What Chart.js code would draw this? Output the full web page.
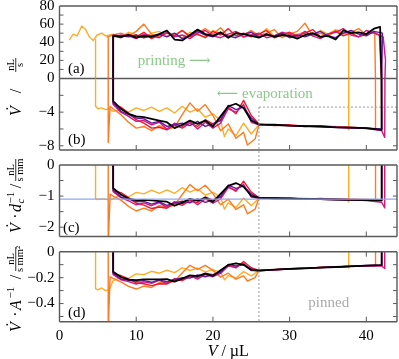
<!DOCTYPE html>
<html>
<head>
<meta charset="utf-8">
<script src="https://cdn.jsdelivr.net/npm/chart.js@4.4.1/dist/chart.umd.min.js"></script>
<style>
html, body { margin:0; padding:0; background:#ffffff; }
#wrap { position:relative; width:399px; height:359px; overflow:hidden; }
#wrap canvas { position:absolute; left:0; top:0; }
</style>
</head>
<body>
<div id="wrap">
  <canvas id="cA" width="399" height="359"></canvas>
  <canvas id="cB" width="399" height="359"></canvas>
  <canvas id="cC" width="399" height="359"></canvas>
  <canvas id="cD" width="399" height="359"></canvas>
</div>
<script>
// ================= DATA =================
const xTicks   = [0, 10, 20, 30, 40];
const yTicksA  = [0, 10, 20, 30, 40, 50, 60, 70, 80];
const yLabelsA = [0, 20, 40, 60, 80];
const yTicksB  = [-8, -6, -4, -2, 0];
const yLabelsB = [-4, -8];
const yTicksC  = [-2, -1.5, -1, -0.5, 0];
const yLabelsC = [0, -1, -2];
const yTicksD  = [-0.5, -0.4, -0.3, -0.2, -0.1, 0];
const yLabelsD = [0, -0.2, -0.4];

const pinV = 26;          // contact line pinned from here (µL)
const pinRate = -3.4;     // level of the dashed guide in (b)
const dcRef = -1.1;       // reference line in (c)

// shared volume grids (µL)
const printGrid = [7,8,9,10,11,12,13,14,15,16,17,18,19,20,21,22,23,24,25,26,27,28,29,30,31,32,33,34,35,36,37,38,39,40,41];
const evapGrid  = [42,40,38,36,34,32,30,28,26,25,24,23,22,21,20,19,18,17,16,15,14,13,12,11,10,9,8,7];

// ---- black ----
const printV_black    = printGrid.concat([41.8]);
const printRate_black = [47,46,48,45,47,46,49,53,43,42,48,54,49,47,51,45,50,49,47,45,49,46,48,47,44,48,50,46,47,43,53,50,51,49,55,57];
const evapV_black     = evapGrid;
const evapRate_black  = [-6.1,-5.9,-5.85,-5.8,-5.7,-5.65,-5.6,-5.5,-5.45,-5.0,-3.5,-3.0,-3.3,-4.5,-5.7,-5.0,-5.4,-5.0,-5.5,-5.9,-5.2,-5.0,-4.8,-4.6,-4.5,-4.2,-3.6,-2.7];
const evapDc_black    = [-1.14,-1.13,-1.12,-1.11,-1.1,-1.09,-1.08,-1.07,-1.06,-0.99,-0.70,-0.58,-0.67,-0.93,-1.19,-1.05,-1.15,-1.09,-1.21,-1.31,-1.18,-1.16,-1.14,-1.12,-1.13,-1.08,-0.95,-0.75];
const evapA_black     = [-0.104,-0.108,-0.113,-0.118,-0.123,-0.128,-0.133,-0.139,-0.146,-0.141,-0.101,-0.090,-0.102,-0.143,-0.187,-0.169,-0.189,-0.182,-0.208,-0.231,-0.212,-0.213,-0.213,-0.214,-0.22,-0.215,-0.195,-0.154];
const restart_black   = 47;

// ---- purple ----
const printV_purple    = printGrid.concat([42.1]);
const printRate_purple = [48,47,46,48,45,47,49,46,50,44,47,52,48,46,50,47,45,49,51,46,48,47,50,45,48,46,49,52,47,45,50,53,49,47,52,50];
const evapV_purple     = evapGrid;
const evapRate_purple  = [-6.0,-5.9,-5.85,-5.8,-5.75,-5.65,-5.6,-5.55,-5.45,-4.7,-3.4,-3.7,-3.2,-5.0,-5.4,-5.7,-5.1,-5.6,-5.3,-5.5,-5.7,-5.1,-5.3,-4.8,-4.7,-4.3,-3.9,-2.9];
const evapDc_purple    = [-1.13,-1.12,-1.12,-1.11,-1.1,-1.09,-1.08,-1.07,-1.06,-0.93,-0.68,-0.75,-0.65,-1.03,-1.13,-1.2,-1.09,-1.22,-1.16,-1.22,-1.3,-1.19,-1.26,-1.17,-1.18,-1.1,-1.03,-0.81];
const evapA_purple     = [-0.103,-0.107,-0.112,-0.117,-0.122,-0.127,-0.132,-0.138,-0.145,-0.132,-0.099,-0.11,-0.098,-0.159,-0.177,-0.193,-0.179,-0.204,-0.2,-0.216,-0.233,-0.217,-0.236,-0.223,-0.229,-0.221,-0.211,-0.166];
const restart_purple   = 48;

// ---- magenta ----
const printV_magenta    = printGrid.concat([42.2, 42.5]);
const printRate_magenta = [46,48,47,44,49,47,45,51,46,48,44,50,53,47,45,49,52,46,48,50,45,47,51,49,46,52,47,44,49,51,55,48,46,53,50,46,20];
const evapV_magenta     = [42.4].concat(evapGrid);
const evapRate_magenta  = [-7.0,-6.2,-5.95,-5.85,-5.8,-5.7,-5.7,-5.6,-5.5,-5.5,-5.2,-3.1,-4.0,-3.6,-5.3,-5.9,-5.2,-6.0,-5.1,-5.7,-5.3,-6.0,-5.2,-5.5,-5.0,-5.1,-4.5,-4.0,-3.1];
const evapDc_magenta    = [-1.38,-1.2,-1.14,-1.12,-1.11,-1.1,-1.1,-1.08,-1.07,-1.07,-1.03,-0.62,-0.81,-0.73,-1.09,-1.23,-1.09,-1.28,-1.11,-1.25,-1.18,-1.36,-1.21,-1.31,-1.22,-1.28,-1.15,-1.05,-0.86];
const evapA_magenta     = [-0.13,-0.11,-0.108,-0.113,-0.118,-0.123,-0.128,-0.133,-0.139,-0.147,-0.146,-0.09,-0.119,-0.111,-0.168,-0.193,-0.176,-0.211,-0.185,-0.215,-0.208,-0.245,-0.221,-0.244,-0.233,-0.249,-0.231,-0.216,-0.177];
const restart_magenta   = 46;

// ---- red ----
const printV_red    = printGrid.concat([41.7]);
const printRate_red = [47,45,49,46,51,44,48,50,47,53,46,49,45,52,48,55,47,50,46,49,53,45,48,51,47,50,54,46,49,52,47,50,46,49,51,48];
const evapV_red     = evapGrid;
const evapRate_red  = [-6.1,-5.9,-5.8,-5.75,-5.6,-5.7,-5.5,-5.6,-5.4,-4.4,-2.6,-4.2,-3.4,-4.9,-5.4,-4.9,-5.7,-5.3,-5.9,-5.5,-6.1,-5.8,-5.9,-5.3,-4.9,-4.1,-3.4,-3.0];
const evapDc_red    = [-1.14,-1.12,-1.11,-1.1,-1.08,-1.1,-1.06,-1.09,-1.05,-0.87,-0.52,-0.85,-0.69,-1.01,-1.13,-1.03,-1.21,-1.15,-1.3,-1.22,-1.39,-1.35,-1.4,-1.29,-1.23,-1.05,-0.89,-0.83];
const evapA_red     = [-0.105,-0.108,-0.112,-0.118,-0.121,-0.129,-0.131,-0.141,-0.145,-0.124,-0.075,-0.125,-0.105,-0.156,-0.177,-0.166,-0.2,-0.193,-0.223,-0.216,-0.249,-0.247,-0.262,-0.247,-0.239,-0.21,-0.184,-0.171];
const restart_red   = 47;

// ---- orange ----
const printV_orange    = [6.2].concat(printGrid, [41.1]);
const printRate_orange = [46,48,50,47,52,60,49,46,51,48,53,47,50,55,49,56,46,51,48,53,47,50,54,45,49,52,61,47,50,46,53,49,51,55,48,52,50];
const evapV_orange     = [41.2,40,38,36,34,32,30,28,26,25.5,24.5,24,23,22,21,20,19,18,17,16,15,14,13,12,11,10,9,8,7,6.6,6.35];
const evapRate_orange  = [-6.0,-5.9,-5.85,-5.8,-5.7,-5.65,-5.6,-5.5,-5.5,-7.2,-7.9,-6.4,-7.1,-5.4,-6.2,-4.4,-3.1,-3.9,-2.9,-4.3,-5.8,-6.0,-5.6,-6.2,-5.7,-5.9,-5.2,-4.3,-3.6,-3.3,-7.6];
const evapDc_orange    = [-1.12,-1.11,-1.1,-1.1,-1.09,-1.08,-1.08,-1.07,-1.07,-1.42,-1.57,-1.28,-1.43,-1.1,-1.28,-0.92,-0.65,-0.83,-0.63,-0.95,-1.29,-1.36,-1.3,-1.48,-1.39,-1.48,-1.33,-1.13,-1.0,-0.94,-2.6];
const evapA_orange     = [-0.106,-0.108,-0.112,-0.117,-0.122,-0.127,-0.132,-0.138,-0.145,-0.2,-0.226,-0.186,-0.212,-0.166,-0.197,-0.144,-0.105,-0.137,-0.105,-0.162,-0.227,-0.245,-0.238,-0.276,-0.265,-0.288,-0.267,-0.232,-0.206,-0.194,-0.6];
const restart_orange   = 46;

// ---- yellow ----
const printV_yellow    = [1.3,1.8,2.3,2.9,3.4,3.9,4.4,4.9,5.5,6,7,8,9,10,11,12,13,14,15,16,17,18,19,20,21,22,23,24,25,26,27,28,29,30,31,32,33,34,35,36,37,37.7];
const printRate_yellow = [43,49,47,58,54,46,42,48,50,47,49,46,51,48,45,50,52,47,49,45,51,48,46,53,49,47,50,45,52,48,55,47,50,46,49,51,47,53,49,54,51,48];
const evapV_yellow     = [37.7,37.5,36,34,32,30,28,26,25,24,23,22,21.5,21,20,19,18,17,16,15,14,13,12,11,10,9,8,7,6.5,6,5.5,5,4.7];
const evapRate_yellow  = [-6.1,-5.75,-5.7,-5.7,-5.65,-5.6,-5.55,-5.5,-6.6,-5.3,-6.8,-6.0,-6.9,-5.0,-4.2,-4.6,-3.6,-4.0,-3.3,-4.1,-3.5,-3.9,-3.4,-3.8,-3.5,-4.0,-3.7,-3.9,-3.6,-3.7,-3.5,-3.6,-3.3];
const evapDc_yellow    = [-1.19,-1.1,-1.1,-1.09,-1.09,-1.08,-1.07,-1.07,-1.31,-1.06,-1.37,-1.22,-1.42,-1.03,-0.88,-0.97,-0.77,-0.87,-0.73,-0.91,-0.8,-0.91,-0.81,-0.93,-0.88,-1.03,-0.97,-1.08,-1.12,-1.1,-1.09,-1.11,-1.08];
const evapA_yellow     = [-0.125,-0.114,-0.117,-0.122,-0.127,-0.132,-0.138,-0.145,-0.186,-0.154,-0.203,-0.185,-0.216,-0.159,-0.138,-0.156,-0.126,-0.145,-0.125,-0.161,-0.143,-0.166,-0.151,-0.177,-0.171,-0.205,-0.2,-0.223,-0.29,-0.3,-0.28,-0.295,-0.285];
const restart_yellow   = 43;

// ================= STYLE / LAYOUT =================
const W = 399, H = 359;
const PLOT_LEFT = 59.5, PLOT_RIGHT = 397;
const BOX = { A:{top:6, bottom:78.5}, B:{top:78.5, bottom:150}, C:{top:165, bottom:236.5}, D:{top:251.7, bottom:321.7} };
const RANGE = { A:[0,80], B:[-8.5,0], C:[-2.3,0], D:[-0.54,0] };
const X_RANGE = [0, 44];
const SERIF = '"Liberation Serif", "DejaVu Serif", serif';
const FRAME_COLOR = '#5a5a5a';
const GREEN = 'rgb(140,200,140)';

const series = [
  { color:'#000000', width:1.8, pV:printV_black,   pR:printRate_black,   eV:evapV_black,   eR:evapRate_black,   eC:evapDc_black,   eA:evapA_black,   rs:restart_black },
  { color:'#6b16a3', width:1.4, pV:printV_purple,  pR:printRate_purple,  eV:evapV_purple,  eR:evapRate_purple,  eC:evapDc_purple,  eA:evapA_purple,  rs:restart_purple },
  { color:'#d01a7c', width:1.4, pV:printV_magenta, pR:printRate_magenta, eV:evapV_magenta, eR:evapRate_magenta, eC:evapDc_magenta, eA:evapA_magenta, rs:restart_magenta },
  { color:'#f0192b', width:1.4, pV:printV_red,     pR:printRate_red,     eV:evapV_red,     eR:evapRate_red,     eC:evapDc_red,     eA:evapA_red,     rs:restart_red },
  { color:'#fd7b22', width:1.4, pV:printV_orange,  pR:printRate_orange,  eV:evapV_orange,  eR:evapRate_orange,  eC:evapDc_orange,  eA:evapA_orange,  rs:restart_orange },
  { color:'#fdad28', width:1.4, pV:printV_yellow,  pR:printRate_yellow,  eV:evapV_yellow,  eR:evapRate_yellow,  eC:evapDc_yellow,  eA:evapA_yellow,  rs:restart_yellow }
];

function pts(xs, ys) { return xs.map((x, i) => ({ x: x, y: ys[i] })); }
// full printing + evaporation loop for V-dot panels (a) and (b)
function loopRate(s) {
  return pts(s.pV, s.pR).concat(pts(s.eV, s.eR), [{ x: s.eV[s.eV.length - 1], y: s.rs }]);
}
// evaporation branch only (normalised panels); the jumps lead to / from the printing branch
function loopNorm(s, vals) {
  return [{ x: s.eV[0], y: s.pR[s.pR.length - 1] }].concat(pts(s.eV, vals), [{ x: s.eV[s.eV.length - 1], y: s.rs }]);
}
function curveSet(getter) {
  return series.map(s => ({
    data: getter(s), borderColor: s.color, borderWidth: s.width,
    fill: false, pointRadius: 0, clip: 0, tension: 0,
    borderJoinStyle: 'round', borderCapStyle: 'round'
  }));
}
function fmt(v) { const s = String(Math.abs(v)); return v < 0 ? '\u2212' + s : s; }

function frame(o) {
  return {
    id: 'frame',
    afterDatasetsDraw(chart) {
      const ctx = chart.ctx, a = chart.chartArea, xs = chart.scales.x, ys = chart.scales.y;
      ctx.save();
      ctx.strokeStyle = FRAME_COLOR;
      ctx.lineWidth = 1.4;
      ctx.beginPath();
      ctx.moveTo(a.left, a.top); ctx.lineTo(a.left, a.bottom);
      ctx.moveTo(a.right, a.top); ctx.lineTo(a.right, a.bottom);
      if (o.top)    { ctx.moveTo(a.left, a.top);    ctx.lineTo(a.right, a.top); }
      if (o.bottom) { ctx.moveTo(a.left, a.bottom); ctx.lineTo(a.right, a.bottom); }
      ctx.stroke();
      ctx.lineWidth = 1;
      ctx.beginPath();
      o.yTicks.forEach(v => {
        const py = ys.getPixelForValue(v);
        if (py > a.top + 2 && py < a.bottom - 2) {
          ctx.moveTo(a.left, py);  ctx.lineTo(a.left + 4, py);
          ctx.moveTo(a.right, py); ctx.lineTo(a.right - 4, py);
        }
      });
      xTicks.forEach(v => {
        const px = xs.getPixelForValue(v);
        if (px > a.left + 2 && px < a.right - 2) {
          if (o.xTop)    { ctx.moveTo(px, a.top);    ctx.lineTo(px, a.top + 5); }
          if (o.xBottom) { ctx.moveTo(px, a.bottom); ctx.lineTo(px, a.bottom - 5); }
        }
      });
      ctx.stroke();
      ctx.restore();
    }
  };
}

function yScale(range, ticks, labels) {
  return {
    min: range[0], max: range[1],
    afterBuildTicks: s => { s.ticks = ticks.map(v => ({ value: v })); },
    afterFit: s => { s.width = PLOT_LEFT; s.paddingTop = 0; s.paddingBottom = 0; },
    grid: { display: false, drawTicks: false },
    border: { display: false },
    ticks: { padding: 5, color: '#000', font: { size: 15, family: SERIF }, autoSkip: false,
             callback: v => labels.includes(v) ? fmt(v) : '' }
  };
}
function xScale(show, bottom) {
  const cfg = { type: 'linear', min: X_RANGE[0], max: X_RANGE[1], display: show };
  if (show) {
    cfg.afterBuildTicks = s => { s.ticks = xTicks.map(v => ({ value: v })); };
    cfg.afterFit = s => { s.height = H - bottom; s.paddingLeft = 0; s.paddingRight = 0; };
    cfg.grid = { display: false, drawTicks: false };
    cfg.border = { display: false };
    cfg.ticks = { padding: 5, color: '#000', font: { size: 15, family: SERIF }, autoSkip: false, maxRotation: 0 };
  }
  return cfg;
}

// text helpers
function textAt(chart, vx, vy, str, font, color, align) {
  const ctx = chart.ctx;
  ctx.save();
  ctx.font = font; ctx.fillStyle = color; ctx.textAlign = align || 'left'; ctx.textBaseline = 'middle';
  ctx.fillText(str, chart.scales.x.getPixelForValue(vx), chart.scales.y.getPixelForValue(vy));
  ctx.restore();
}
function rotTitle(ctx, ax, ay, pieces, bars) {
  ctx.save();
  ctx.translate(ax, ay);
  ctx.rotate(-Math.PI / 2);
  ctx.fillStyle = '#000';
  ctx.textBaseline = 'alphabetic';
  pieces.forEach(p => {
    ctx.font = p.f; ctx.textAlign = p.al || 'left';
    ctx.fillText(p.t, p.x, p.y || 0);
  });
  (bars || []).forEach(b => ctx.fillRect(b[0], b[1], b[2], 0.8));
  ctx.restore();
}
const F16 = '16px ' + SERIF, F16I = 'italic 16px ' + SERIF, F11 = '11px ' + SERIF, F11I = 'italic 11px ' + SERIF, F10 = '10.5px ' + SERIF;
const VDOT = [ { t:'V', f:F16I, x:0 }, { t:'\u02D9', f:F16, x:7.5, y:-4, al:'center' } ];

function makeChart(id, key, datasets, frameOpts, deco, showX) {
  const b = BOX[key];
  return new Chart(document.getElementById(id), {
    type: 'line',
    data: { datasets: datasets },
    options: {
      responsive: false, animation: false, devicePixelRatio: 1, events: [],
      layout: { padding: { left: 0, right: W - PLOT_RIGHT, top: b.top, bottom: showX ? 0 : H - b.bottom } },
      plugins: { legend: { display: false }, tooltip: { enabled: false } },
      scales: {
        x: xScale(!!showX, b.bottom),
        y: yScale(RANGE[key], frameOpts.yTicks, frameOpts.labels)
      }
    },
    plugins: [ frame(frameOpts), { id: 'deco', afterDraw: deco } ]
  });
}

Chart.defaults.font.family = SERIF;
Chart.defaults.color = '#000';

// ---- (a) ----
const chartA = makeChart('cA', 'A', curveSet(loopRate),
  { top:true, bottom:true, xTop:true, xBottom:false, yTicks:yTicksA, labels:yLabelsA },
  chart => {
    textAt(chart, 1.1, 10.5, '(a)', '15px ' + SERIF, '#000');
    textAt(chart, 10.2, 19.3, 'printing \u27F6', '15px ' + SERIF, GREEN);
    rotTitle(chart.ctx, 21, 116, VDOT.concat([
      { t:'/', f:F16, x:25, al:'center' },
      { t:'nL', f:F10, x:51, y:-6.8, al:'center' },
      { t:'s',  f:F10, x:51, y:1.6,  al:'center' }
    ]), [[44, -5.6, 14]]);
  });

// ---- (b) ----
const dsB = curveSet(loopRate);
dsB.push({ data: [{ x: pinV, y: pinRate }, { x: X_RANGE[1], y: pinRate }], borderColor:'#999999', borderWidth:1,
           borderDash:[2,2], pointRadius:0, fill:false, clip:0 });
const chartB = makeChart('cB', 'B', dsB,
  { top:false, bottom:true, xTop:false, xBottom:true, yTicks:yTicksB, labels:yLabelsB },
  chart => {
    textAt(chart, 1.1, -7.3, '(b)', '15px ' + SERIF, '#000');
    textAt(chart, 20.5, -1.84, '\u27F5 evaporation', '15px ' + SERIF, GREEN);
  });

// ---- (c) ----
const dsC = [{ data: [{ x: X_RANGE[0], y: dcRef }, { x: X_RANGE[1], y: dcRef }], borderColor:'#8fa8ef', borderWidth:1.2,
               pointRadius:0, fill:false, clip:0 }].concat(curveSet(s => loopNorm(s, s.eC)));
const chartC = makeChart('cC', 'C', dsC,
  { top:true, bottom:true, xTop:true, xBottom:true, yTicks:yTicksC, labels:yLabelsC },
  chart => {
    textAt(chart, 0.45, -2.03, '(c)', '15px ' + SERIF, '#000');
    rotTitle(chart.ctx, 21, 233, VDOT.concat([
      { t:'\u00B7', f:F16, x:17, al:'center' },
      { t:'d', f:F16I, x:21 },
      { t:'c', f:F11I, x:29.5, y:3 },
      { t:'\u22121', f:F11, x:29.5, y:-7 },
      { t:'/', f:F16, x:47, al:'center' },
      { t:'nL',   f:F10, x:63, y:-6.8, al:'center' },
      { t:'s mm', f:F10, x:63, y:1.6,  al:'center' }
    ]), [[52, -5.6, 22]]);
  });

// ---- (d) ----
const chartD = makeChart('cD', 'D', curveSet(s => loopNorm(s, s.eA)),
  { top:true, bottom:true, xTop:true, xBottom:true, yTicks:yTicksD, labels:yLabelsD },
  chart => {
    const ctx = chart.ctx, a = chart.chartArea;
    textAt(chart, 1.1, -0.473, '(d)', '15px ' + SERIF, '#000');
    textAt(chart, 35.1, -0.396, 'pinned', '15px ' + SERIF, '#aaaaaa', 'center');
    rotTitle(ctx, 21, 332, VDOT.concat([
      { t:'\u00B7', f:F16, x:18, al:'center' },
      { t:'A', f:F16I, x:22 },
      { t:'\u22121', f:F11, x:33.5, y:-7 },
      { t:'/', f:F16, x:55, al:'center' },
      { t:'nL',    f:F10, x:73, y:-6.8, al:'center' },
      { t:'s mm\u00B2', f:F10, x:73, y:1.6,  al:'center' }
    ]), [[61, -5.6, 24]]);
    // x-axis title
    ctx.save();
    ctx.fillStyle = '#000'; ctx.textBaseline = 'alphabetic'; ctx.textAlign = 'left';
    ctx.font = F16I; const w1 = ctx.measureText('V').width;
    ctx.font = F16;  const w2 = ctx.measureText(' / \u00B5L').width;
    const x0 = (a.left + a.right) / 2 - (w1 + w2) / 2;
    ctx.font = F16I; ctx.fillText('V', x0, 356);
    ctx.font = F16;  ctx.fillText(' / \u00B5L', x0 + w1, 356);
    // dashed pinning guide spanning panels (b)-(d)
    const px = chart.scales.x.getPixelForValue(pinV);
    const yTop = chartB.scales.y.getPixelForValue(pinRate);
    ctx.strokeStyle = '#999999'; ctx.lineWidth = 1; ctx.setLineDash([2, 2]);
    ctx.beginPath(); ctx.moveTo(px, yTop); ctx.lineTo(px, a.bottom); ctx.stroke();
    ctx.restore();
  }, true);
</script>
</body>
</html>
